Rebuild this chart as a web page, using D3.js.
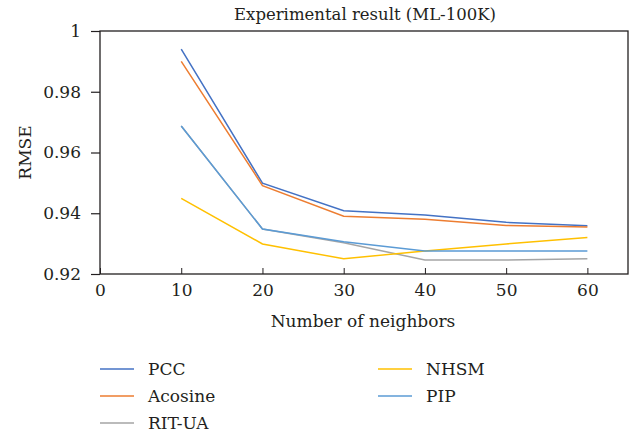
<!DOCTYPE html>
<html>
<head>
<meta charset="utf-8">
<script src="https://cdn.jsdelivr.net/npm/d3@7"></script>
<style>
  body { margin: 0; background: #fff; }
</style>
</head>
<body>
<div id="chart"></div>
<script>
// neighbours on the x axis
var neighbors = [10, 20, 30, 40, 50, 60];

// RMSE per method
var pcc     = [0.9940, 0.9499, 0.9408, 0.9394, 0.9370, 0.9359];
var acosine = [0.9900, 0.9491, 0.9390, 0.9380, 0.9360, 0.9355];
var ritua   = [0.9687, 0.9348, 0.9303, 0.9246, 0.9246, 0.9250];
var nhsm    = [0.9449, 0.9299, 0.9250, 0.9276, 0.9299, 0.9320];
var pip     = [0.9687, 0.9348, 0.9306, 0.9276, 0.9276, 0.9276];

var xTicks = [0, 10, 20, 30, 40, 50, 60];
var yTicks = [0.92, 0.94, 0.96, 0.98, 1];

var series = [
    { name: "PCC",     values: pcc,     color: "#4472c4" },
    { name: "Acosine", values: acosine, color: "#ed7d31" },
    { name: "RIT-UA",  values: ritua,   color: "#a5a5a5" },
    { name: "NHSM",    values: nhsm,    color: "#ffc000" },
    { name: "PIP",     values: pip,     color: "#5b9bd5" }
];

var FONT = "DejaVu Serif";

function draw_rmse_chart() {
    var margin = { top: 31, right: 7, bottom: 164, left: 100 };
    var width  = 635 - margin.left - margin.right;
    var height = 438 - margin.top - margin.bottom;

    var root = d3.select("#chart")
        .append("svg")
        .attr("width", 635)
        .attr("height", 438)
        .attr("font-family", FONT);

    var svg = root.append("g")
        .attr("transform", "translate(" + margin.left + "," + margin.top + ")");

    var x = d3.scaleLinear().domain([0, 65]).range([0, width]);
    var y = d3.scaleLinear().domain([0.92, 1]).range([height, 0]);

    // box round the plot
    svg.append("rect")
        .attr("x", 0).attr("y", 0)
        .attr("width", width).attr("height", height)
        .attr("fill", "none")
        .attr("stroke", "#231f20")
        .attr("stroke-width", 1.3);

    // x axis, ticks pointing inwards
    var xAxis = svg.append("g")
        .attr("transform", "translate(0," + height + ")")
        .call(d3.axisBottom(x).tickValues(xTicks).tickSizeInner(-6).tickSizeOuter(0).tickPadding(10));
    xAxis.attr("font-family", FONT).attr("font-size", 17);
    xAxis.select(".domain").remove();
    xAxis.selectAll("line").attr("stroke", "#231f20");
    xAxis.selectAll("text").attr("fill", "#231f20");

    // y axis, ticks pointing outwards
    var yAxis = svg.append("g")
        .call(d3.axisLeft(y).tickValues(yTicks).tickFormat(d3.format("~g")).tickSizeInner(9).tickSizeOuter(0).tickPadding(10));
    yAxis.attr("font-family", FONT).attr("font-size", 17);
    yAxis.select(".domain").remove();
    yAxis.selectAll("line").attr("stroke", "#231f20").attr("stroke-width", 1.2);
    yAxis.selectAll("text").attr("fill", "#231f20");

    var line = d3.line()
        .x(function(d, i) { return x(neighbors[i]); })
        .y(function(d) { return y(d); });

    // draw the gray one first so PIP lies over it
    var order = [2, 0, 1, 3, 4];
    order.forEach(function(k) {
        svg.append("path")
            .datum(series[k].values)
            .attr("fill", "none")
            .attr("stroke", series[k].color)
            .attr("stroke-width", 1.5)
            .attr("d", line);
    });

    root.append("text")
        .attr("x", margin.left + width / 2 + 1)
        .attr("y", 20)
        .attr("text-anchor", "middle")
        .attr("fill", "#231f20")
        .attr("font-size", 16.5)
        .text("Experimental result (ML-100K)");

    root.append("text")
        .attr("transform", "translate(31," + (margin.top + height / 2) + ") rotate(-90)")
        .attr("text-anchor", "middle")
        .attr("fill", "#231f20")
        .attr("font-size", 17)
        .text("RMSE");

    root.append("text")
        .attr("x", margin.left + width / 2 - 1)
        .attr("y", 327)
        .attr("text-anchor", "middle")
        .attr("fill", "#231f20")
        .attr("font-size", 17)
        .text("Number of neighbors");

    // legend: two columns
    var legend = root.append("g");
    series.forEach(function(s, i) {
        var col = i < 3 ? 0 : 1;
        var row = i < 3 ? i : i - 3;
        var lx = col === 0 ? 100 : 378;
        var ly = 369 + row * 27;
        legend.append("line")
            .attr("x1", lx).attr("x2", lx + 34)
            .attr("y1", ly).attr("y2", ly)
            .attr("stroke", s.color)
            .attr("stroke-width", 1.5);
        legend.append("text")
            .attr("x", lx + 48)
            .attr("y", ly)
            .attr("dy", "0.35em")
            .attr("fill", "#231f20")
            .attr("font-size", 17)
            .text(s.name);
    });
}

draw_rmse_chart();
</script>
</body>
</html>
